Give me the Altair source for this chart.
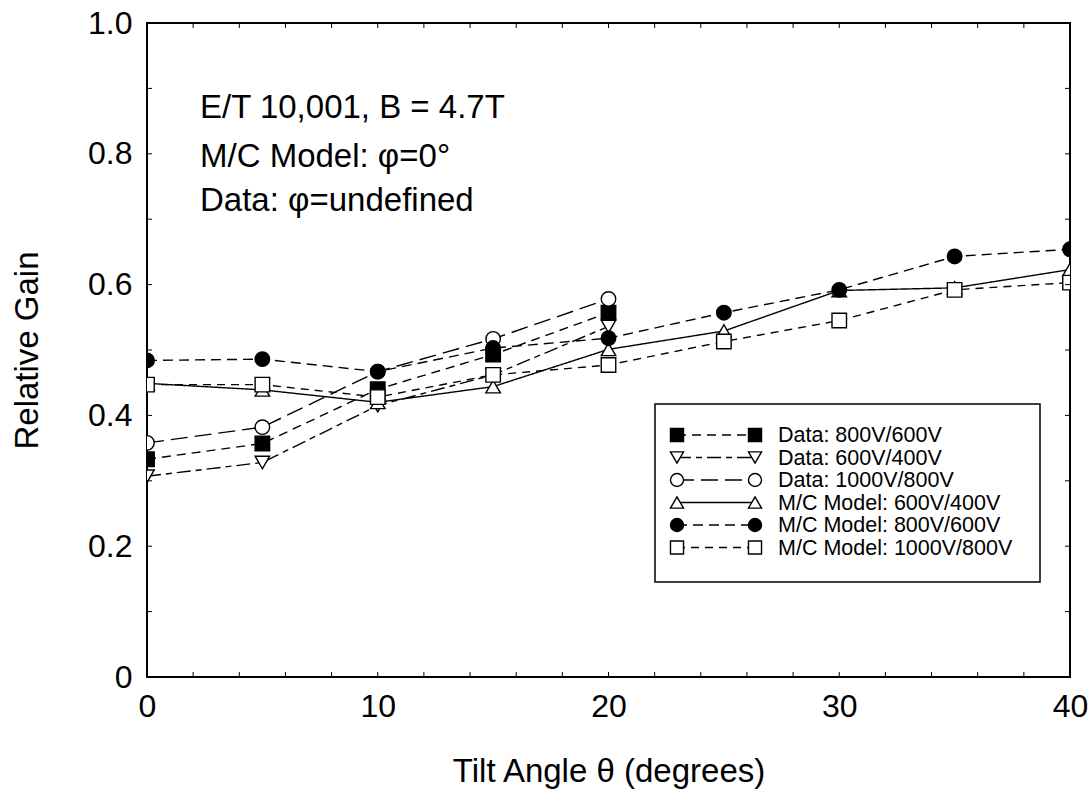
import altair as alt
import pandas as pd

# ---- data ----
x_data = [0, 5, 10, 15, 20]
data_800_600 = [0.333, 0.357, 0.440, 0.493, 0.557]
data_600_400 = [0.307, 0.328, 0.415, 0.462, 0.536]
data_1000_800 = [0.358, 0.382, 0.467, 0.517, 0.578]

x_mc = [0, 5, 10, 15, 20, 25, 30, 35, 40]
mc_600_400 = [0.449, 0.439, 0.420, 0.444, 0.501, 0.529, 0.591, 0.595, 0.623]
mc_800_600 = [0.484, 0.486, 0.467, 0.503, 0.518, 0.557, 0.592, 0.643, 0.654]
mc_1000_800 = [0.447, 0.447, 0.428, 0.462, 0.477, 0.513, 0.545, 0.592, 0.603]

series_names = [
    "Data: 800V/600V",
    "Data: 600V/400V",
    "Data: 1000V/800V",
    "M/C Model: 600V/400V",
    "M/C Model: 800V/600V",
    "M/C Model: 1000V/800V",
]
series_x = [x_data, x_data, x_data, x_mc, x_mc, x_mc]
series_y = [data_800_600, data_600_400, data_1000_800, mc_600_400, mc_800_600, mc_1000_800]

shapes = ["square", "triangle-down", "circle", "triangle-up", "circle", "square"]
fills = ["black", "white", "white", "white", "black", "white"]
dashes = [[9, 6], [14, 5, 6, 5], [17, 7], [1, 0], [10, 6], [8, 6]]

x_ticks = list(range(0, 41, 2))
y_ticks = [round(i * 0.1, 1) for i in range(11)]
x_labels = [0, 10, 20, 30, 40]
y_labels = [0, 0.2, 0.4, 0.6, 0.8, 1.0]

note_lines = ["E/T 10,001, B = 4.7T", "M/C Model: φ=0°", "Data: φ=undefined"]

FONT = "Liberation Sans"
W, H = 923, 654

rows = []
for name, xs, ys in zip(series_names, series_x, series_y):
    for xv, yv in zip(xs, ys):
        rows.append({"series": name, "x": xv, "y": yv})
df = pd.DataFrame(rows)

xscale = alt.Scale(domain=[0, 40], nice=False, zero=False)
yscale = alt.Scale(domain=[0, 1], nice=False, zero=False)

X_TITLE = "Tilt Angle θ (degrees)"
Y_TITLE = "Relative Gain"

x_axis = alt.Axis(
    values=x_labels, title=X_TITLE, grid=False, domain=False,
    ticks=False, tickSize=0, labelFontSize=32, titleFontSize=33, labelFont=FONT,
    titleFont=FONT, labelColor="black", titleColor="black", titleFontWeight="normal",
    labelPadding=14, titlePadding=33, labelFlush=False, labelOverlap=False,
)
y_axis = alt.Axis(
    values=y_labels, title=Y_TITLE, grid=False, domain=False,
    ticks=False, tickSize=0, labelFontSize=32, titleFontSize=33, labelFont=FONT,
    titleFont=FONT, labelColor="black", titleColor="black", titleFontWeight="normal",
    labelPadding=15, titlePadding=43, labelFlush=False, labelOverlap=False,
    labelExpr="datum.value == 0 ? '0' : format(datum.value, '.1f')",
)

X = lambda f: alt.X(f, scale=xscale, axis=x_axis, title=X_TITLE)
Y = lambda f: alt.Y(f, scale=yscale, axis=y_axis, title=Y_TITLE)

lines = alt.Chart(df).mark_line(strokeWidth=1.4, color="black", clip=True).encode(
    x=X("x:Q"),
    y=Y("y:Q"),
    detail="series:N",
    strokeDash=alt.StrokeDash("series:N", scale=alt.Scale(domain=series_names, range=dashes), legend=None),
)

points = alt.Chart(df).mark_point(filled=True, stroke="black", strokeWidth=1.4, size=210, opacity=1, clip=True).encode(
    x=X("x:Q"),
    y=Y("y:Q"),
    shape=alt.Shape("series:N", scale=alt.Scale(domain=series_names, range=shapes), legend=None),
    fill=alt.Fill("series:N", scale=alt.Scale(domain=series_names, range=fills), legend=None),
)

# inward ticks on all four sides
xt = pd.DataFrame({"x": x_ticks})
yt = pd.DataFrame({"y": y_ticks})
tick_len = 5
tick_layers = [
    alt.Chart(xt).mark_rule(color="black", strokeWidth=1).encode(
        x=X("x:Q"), y=alt.value(H), y2=alt.value(H - tick_len)),
    alt.Chart(xt).mark_rule(color="black", strokeWidth=1).encode(
        x=X("x:Q"), y=alt.value(0), y2=alt.value(tick_len)),
    alt.Chart(yt).mark_rule(color="black", strokeWidth=1).encode(
        y=Y("y:Q"), x=alt.value(0), x2=alt.value(tick_len)),
    alt.Chart(yt).mark_rule(color="black", strokeWidth=1).encode(
        y=Y("y:Q"), x=alt.value(W), x2=alt.value(W - tick_len)),
]

one = pd.DataFrame({"k": [0]})

# annotation text
note_layers = []
for txt, yb in zip(note_lines, [95, 144, 188]):
    note_layers.append(
        alt.Chart(one).mark_text(text=txt, align="left", baseline="alphabetic", fontSize=33,
                                 font=FONT, color="black").encode(x=alt.value(53), y=alt.value(yb))
    )

# custom legend box
legend_layers = [
    alt.Chart(one).mark_rect(fill="white", stroke="black", strokeWidth=1.5).encode(
        x=alt.value(508), x2=alt.value(893), y=alt.value(381), y2=alt.value(559))
]
row_y0, row_dy = 412, 22.5
for i, name in enumerate(series_names):
    yi = row_y0 + i * row_dy
    legend_layers.append(
        alt.Chart(one).mark_rule(color="black", strokeWidth=1.4, strokeDash=dashes[i]).encode(
            x=alt.value(530), x2=alt.value(608), y=alt.value(yi))
    )
    for xp in (530, 608):
        legend_layers.append(
            alt.Chart(one).mark_point(shape=shapes[i], filled=True, fill=fills[i], stroke="black",
                                      strokeWidth=1.4, size=170, opacity=1).encode(
                x=alt.value(xp), y=alt.value(yi))
        )
    legend_layers.append(
        alt.Chart(one).mark_text(text=name, align="left", baseline="middle", fontSize=21.5,
                                 font=FONT, color="black").encode(x=alt.value(631), y=alt.value(yi + 1))
    )

chart = alt.layer(lines, points, *tick_layers, *note_layers, *legend_layers).properties(
    width=W, height=H,
    autosize=alt.AutoSizeParams(type="none"),
    padding={"left": 147, "top": 23, "right": 22, "bottom": 123},
    background="white",
).configure_view(stroke="black", strokeWidth=2)

chart.save("out.html", embed_options={"renderer": "svg", "actions": False})
